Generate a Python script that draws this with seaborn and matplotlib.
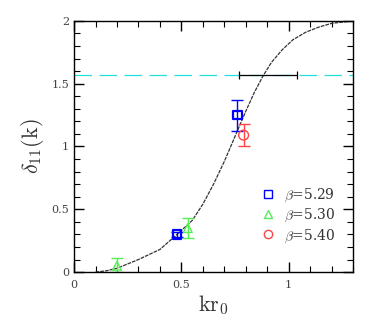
import numpy as np
import pandas as pd
import matplotlib
matplotlib.use("Agg")
import matplotlib.pyplot as plt
import seaborn as sns
from matplotlib.ticker import MultipleLocator

# fitted curve
curve_x = [0.10, 0.15, 0.20, 0.30, 0.40, 0.48, 0.55, 0.60, 0.65, 0.70, 0.74, 0.77,
           0.80, 0.84, 0.88, 0.92, 0.97, 1.02, 1.08, 1.14, 1.20, 1.25, 1.30]
curve_y = [0.00, 0.01, 0.03, 0.10, 0.18, 0.30, 0.41, 0.54, 0.70, 0.88, 1.04, 1.16,
           1.28, 1.43, 1.56, 1.67, 1.77, 1.85, 1.91, 1.95, 1.98, 1.99, 2.00]

# lattice points
b529_x = [0.48, 0.76]
b529_y = [0.30, 1.25]
b529_lo = [0.02, 0.13]
b529_hi = [0.02, 0.12]

b530_x = [0.20, 0.53]
b530_y = [0.05, 0.35]
b530_lo = [0.05, 0.08]
b530_hi = [0.06, 0.08]

b540_x = [0.79]
b540_y = [1.09]
b540_lo = [0.09]
b540_hi = [0.09]

# resonance position pi/2 with error on kr0
res_y = 1.5708
res_x = 0.905
res_xerr = [[0.135], [0.135]]

labels = [r'$\beta$=5.29', r'$\beta$=5.30', r'$\beta$=5.40']

sns.set_theme(style="ticks")
plt.rcParams['font.family'] = ['DejaVu Serif']
plt.rcParams['mathtext.fontset'] = 'cm'

fig = plt.figure(figsize=(3.74, 3.31), dpi=100)
ax = fig.add_axes([0.198, 0.178, 0.746, 0.759])

sns.lineplot(x=curve_x, y=curve_y, ax=ax, color='#333333', lw=0.9,
             linestyle=(0, (3, 0.8)), sort=False)

ax.axhline(res_y, color='#22e0e0', lw=0.9, linestyle=(0, (14, 6)), zorder=1)
ax.errorbar([res_x], [res_y], xerr=res_xerr, fmt='none', ecolor='black',
            elinewidth=0.9, capsize=3, capthick=0.9, zorder=3)

ax.errorbar(b529_x, b529_y, yerr=[b529_lo, b529_hi], fmt='none', ecolor='blue',
            elinewidth=1.0, capsize=4, capthick=1.0)
ax.errorbar(b530_x, b530_y, yerr=[b530_lo, b530_hi], fmt='none', ecolor='#55ee55',
            elinewidth=1.0, capsize=4, capthick=1.0)
ax.errorbar(b540_x, b540_y, yerr=[b540_lo, b540_hi], fmt='none', ecolor='#ff4444',
            elinewidth=1.0, capsize=4, capthick=1.0)

sns.scatterplot(x=b529_x, y=b529_y, ax=ax, marker='s', s=40, facecolor='none',
                edgecolor='blue', linewidth=1.6, zorder=4)
sns.scatterplot(x=b530_x, y=b530_y, ax=ax, marker='^', s=40, facecolor='none',
                edgecolor='#55ee55', linewidth=1.0, zorder=4)
sns.scatterplot(x=b540_x, y=b540_y, ax=ax, marker='o', s=50, facecolor='none',
                edgecolor='#ff4444', linewidth=1.0, zorder=4)

# legend
leg_colors = ['blue', '#55ee55', '#ff4444']
leg_markers = ['s', '^', 'o']
handles = [plt.Line2D([], [], ls='none', marker=m, mfc='none', mec=c, ms=6, mew=1.0)
           for m, c in zip(leg_markers, leg_colors)]
ax.legend(handles, labels, loc='lower right', bbox_to_anchor=(0.98, 0.06),
          frameon=False, fontsize=10, handletextpad=0.6, labelspacing=0.2,
          handlelength=1.0, labelcolor='#333333')

ax.set_xlim(0, 1.3)
ax.set_ylim(0, 2)
ax.xaxis.set_major_locator(MultipleLocator(0.5))
ax.xaxis.set_minor_locator(MultipleLocator(0.1))
ax.yaxis.set_major_locator(MultipleLocator(0.5))
ax.yaxis.set_minor_locator(MultipleLocator(0.1))
ax.tick_params(which='both', direction='in', top=True, right=True, colors='black',
               labelcolor='#444444', labelsize=8)
ax.tick_params(which='major', length=7, width=1.0)
ax.tick_params(which='minor', length=4, width=0.8)
ax.xaxis.set_major_formatter(matplotlib.ticker.FuncFormatter(lambda v, p: f'{v:g}'))
ax.yaxis.set_major_formatter(matplotlib.ticker.FuncFormatter(lambda v, p: f'{v:g}'))
ax.tick_params(axis='x', pad=6)
for s in ax.spines.values():
    s.set_linewidth(1.0)
    s.set_color('black')

ax.set_xlabel(r'$\mathrm{kr}_0$', fontsize=16, color='#333333', labelpad=2)
ax.set_ylabel(r'$\delta_{11}(\mathrm{k})$', fontsize=16, color='#333333', labelpad=4)

fig.savefig('out.png', dpi=100)
